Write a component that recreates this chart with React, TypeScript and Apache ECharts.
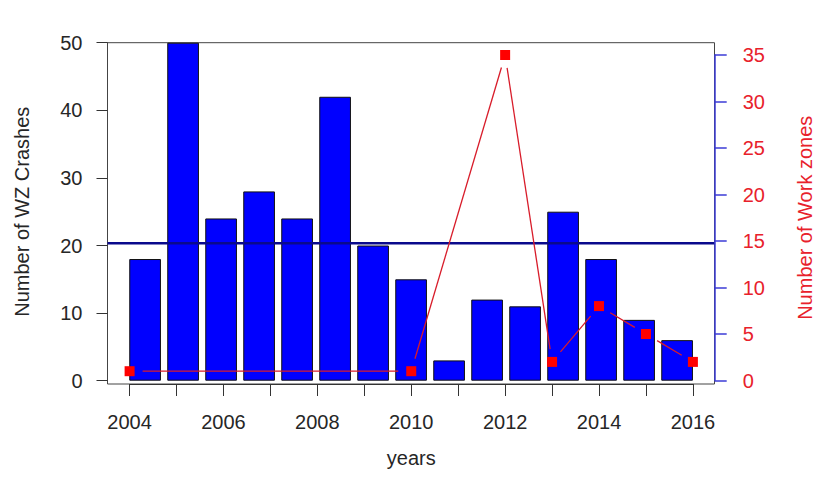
import React, { useEffect, useRef } from "react";
import * as echarts from "echarts";

// ---- data ----
const barCategories = ["1", "2", "3", "4", "5", "6", "7", "8", "9", "10", "11", "12", "13", "14", "15"];
const crashes = [18, 50, 24, 28, 24, 42, 20, 15, 3, 12, 11, 25, 18, 9, 6];
const wzYears = [2004, 2010, 2012, 2013, 2014, 2015, 2016];
const workZones = [1, 1, 35, 2, 8, 5, 2];
const xTickLabels = ["2004", "2006", "2008", "2010", "2012", "2014", "2016"];
const leftAxis = { min: 0, max: 50, step: 10 };
const rightAxis = { min: 0, max: 35, step: 5 };
const yearRange = { min: 2004, max: 2016 };

const FONT = "'Liberation Sans', Arial, sans-serif";
const TEXT = "#262626";
const RED = "#e8212b";

export default function App() {
  const ref = useRef<HTMLDivElement>(null);
  useEffect(() => {
    if (!ref.current) return;
    const chart = echarts.init(ref.current, null, { renderer: "svg" });
    const mean = crashes.reduce((a, b) => a + b, 0) / crashes.length;
    const boxTop = 42.7;
    const boxBottom = 384;
    const y0 = 380.7; // pixel of value 0 on left axis
    const pxPerUnit = (y0 - boxTop) / leftAxis.max;
    const boxMin = -(boxBottom - y0) / pxPerUnit;
    const g = { show: false, containLabel: false, outerBoundsMode: "none" };

    const points = wzYears.map((y, i) => [y, workZones[i]]);
    const segments = points.slice(1).map((p, i) => [points[i][0], points[i][1], p[0], p[1]]);

    const option: any = {
      animation: false,
      backgroundColor: "#ffffff",
      textStyle: { fontFamily: FONT },
      grid: [
        // 0: box
        { ...g, left: 107.5, top: boxTop, width: 607, height: boxBottom - boxTop, show: true, borderColor: "#444", borderWidth: 1, backgroundColor: "transparent", z: 0 },
        // 1: bars
        { ...g, left: 126.1, top: boxTop, width: 570, height: y0 - boxTop },
        // 2: left axis
        { ...g, left: 107.5, top: boxTop, width: 607, height: y0 - boxTop },
        // 3: years axis, right axis, work zone line
        { ...g, left: 129.6, top: 55, width: 563.3, height: 325.5 },
      ],
      xAxis: [
        { type: "value", gridIndex: 0, min: 0, max: 1, show: false },
        { type: "category", gridIndex: 1, data: barCategories, show: false, boundaryGap: true },
        { type: "value", gridIndex: 2, min: 0, max: 1, show: false },
        {
          type: "value",
          gridIndex: 3,
          min: yearRange.min,
          max: yearRange.max,
          interval: 1,
          position: "bottom",
          offset: boxBottom - 380.5,
          axisLine: { show: true, onZero: false, lineStyle: { color: "#333", width: 1 } },
          axisTick: { show: true, length: 12, inside: false, lineStyle: { color: "#333", width: 1 } },
          splitLine: { show: false },
          axisLabel: {
            fontSize: 20,
            color: TEXT,
            fontFamily: FONT,
            margin: 28,
            formatter: (v: number) => (xTickLabels.includes(String(v)) ? String(v) : ""),
          },
          name: "years",
          nameLocation: "middle",
          nameGap: 64,
          nameTextStyle: { fontSize: 20, color: TEXT, fontFamily: FONT },
        },
      ],
      yAxis: [
        { type: "value", gridIndex: 0, min: boxMin, max: leftAxis.max, show: false },
        { type: "value", gridIndex: 1, min: leftAxis.min, max: leftAxis.max, show: false },
        {
          type: "value",
          gridIndex: 2,
          min: leftAxis.min,
          max: leftAxis.max,
          interval: leftAxis.step,
          position: "left",
          axisLine: { show: true, lineStyle: { color: "#444", width: 1 } },
          axisTick: { show: true, length: 11, inside: false, lineStyle: { color: "#333", width: 1 } },
          splitLine: { show: false },
          axisLabel: { fontSize: 20, color: TEXT, fontFamily: FONT, margin: 25 },
          name: "Number of WZ Crashes",
          nameLocation: "middle",
          nameRotate: 90,
          nameGap: 76,
          nameTextStyle: { fontSize: 20, color: TEXT, fontFamily: FONT },
        },
        {
          type: "value",
          gridIndex: 3,
          min: rightAxis.min,
          max: rightAxis.max,
          interval: rightAxis.step,
          position: "right",
          offset: 714.7 - 692.9,
          z: 5,
          axisLine: { show: true, onZero: false, lineStyle: { color: "#3b3bd6", width: 1.5 } },
          axisTick: { show: true, length: 12, inside: false, lineStyle: { color: "#3b3bd6", width: 1.5 } },
          splitLine: { show: false },
          axisLabel: { fontSize: 20, color: RED, fontFamily: FONT, margin: 28 },
          name: "Number of Work zones",
          nameLocation: "middle",
          nameRotate: 90,
          nameGap: 80,
          nameTextStyle: { fontSize: 20, color: RED, fontFamily: FONT },
        },
      ],
      series: [
        {
          type: "bar",
          xAxisIndex: 1,
          yAxisIndex: 1,
          data: crashes,
          barWidth: 31.7,
          itemStyle: { color: "#0000ff", borderColor: "#111", borderWidth: 1 },
          z: 2,
        },
        {
          type: "line",
          xAxisIndex: 0,
          yAxisIndex: 0,
          data: [
            [0, mean],
            [1, mean],
          ],
          symbol: "none",
          lineStyle: { color: "#0a0a8c", width: 2.5 },
          z: 3,
        },
        {
          type: "custom",
          xAxisIndex: 3,
          yAxisIndex: 3,
          data: segments,
          encode: { x: [0, 2], y: [1, 3] },
          z: 4,
          renderItem: (params: any, api: any) => {
            const p1 = api.coord([api.value(0), api.value(1)]);
            const p2 = api.coord([api.value(2), api.value(3)]);
            const dx = p2[0] - p1[0];
            const dy = p2[1] - p1[1];
            const len = Math.hypot(dx, dy) || 1;
            const gap = 13;
            const ux = dx / len;
            const uy = dy / len;
            return {
              type: "line",
              shape: { x1: p1[0] + ux * gap, y1: p1[1] + uy * gap, x2: p2[0] - ux * gap, y2: p2[1] - uy * gap },
              style: { stroke: "#d81c2a", lineWidth: 1.3 },
            };
          },
        },
        {
          type: "scatter",
          xAxisIndex: 3,
          yAxisIndex: 3,
          data: points,
          symbol: "rect",
          symbolSize: 10,
          itemStyle: { color: "#ff0000", opacity: 1 },
          z: 5,
        },
      ],
    };
    chart.setOption(option);
    return () => chart.dispose();
  }, []);
  return (
    <div
      ref={ref}
      style={{ position: "absolute", left: 0, top: 0, width: 816, height: 477, background: "#fff" }}
    />
  );
}
